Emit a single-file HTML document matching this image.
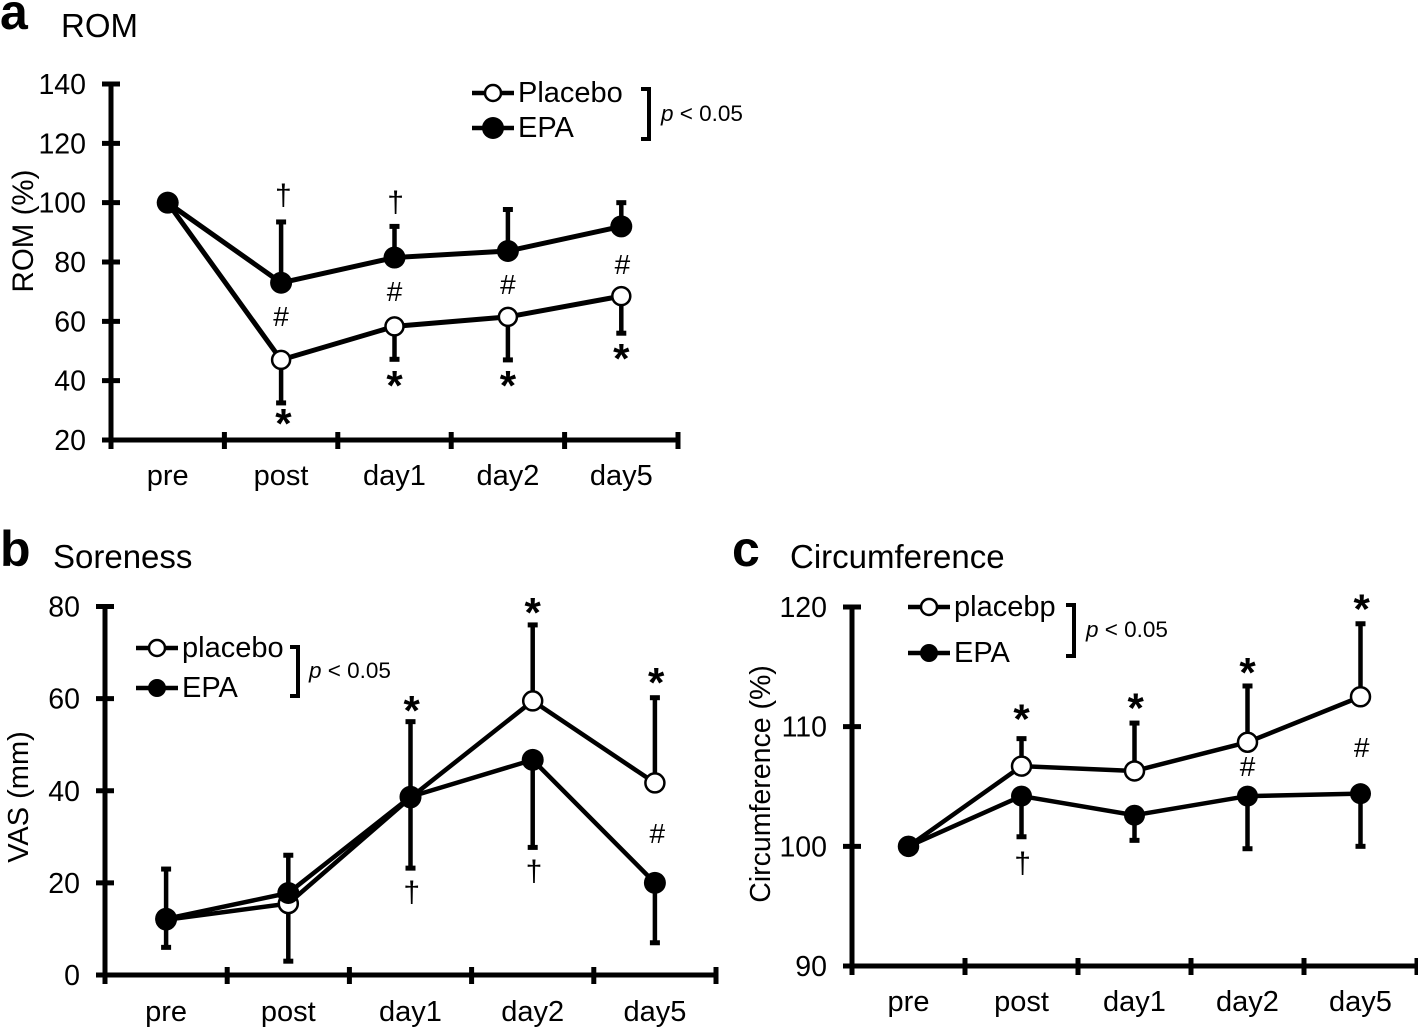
<!DOCTYPE html>
<html lang="en">
<head>
<meta charset="utf-8">
<title>ROM, Soreness and Circumference charts</title>
<style>
html,body{margin:0;padding:0;background:#fff;}
svg{display:block;font-family:"Liberation Sans",Arial,sans-serif;fill:#000;}
</style>
</head>
<body>
<svg id="figure" width="1418" height="1027" viewBox="0 0 1418 1027" xmlns="http://www.w3.org/2000/svg"></svg>
<script>
const categories = ['pre', 'post', 'day1', 'day2', 'day5'];

const romTicks = [20, 40, 60, 80, 100, 120, 140];
const romPlacebo = [100, 47, 58.3, 61.5, 68.5];
const romEpa = [100, 73, 81.5, 83.7, 92];
const romUpper = [null, 93.5, 92, 97.7, 100];
const romLower = [null, 32.5, 47.2, 47, 56];
const romMarks = [['†', 1.02, 102.6], ['†', 2.01, 100.2], ['#', 1, 61.8], ['#', 2, 70.2], ['#', 3, 72.6], ['#', 4.01, 79.3], ['*', 1.02, 27.4], ['*', 2, 40.2], ['*', 3, 40.2], ['*', 4, 49.3]];

const vasTicks = [0, 20, 40, 60, 80];
const vasPlacebo = [12, 15.5, 38.5, 59.5, 41.7];
const vasEpa = [12.2, 17.8, 38.7, 46.7, 20];
const vasUpper = [23, 26, 55, 76, 60.2];
const vasLower = [6, 3, 23.2, 27.7, 7];
const vasMarks = [['*', 2.01, 58.6], ['*', 3, 79.9], ['*', 4.01, 64.7], ['†', 2.01, 18], ['†', 3.01, 22.6], ['#', 4.02, 30.8]];

const circTicks = [90, 100, 110, 120];
const circPlacebo = [100, 106.7, 106.3, 108.7, 112.5];
const circEpa = [100, 104.2, 102.6, 104.2, 104.4];
const circUpper = [null, 109, 110.3, 113.4, 118.6];
const circLower = [null, 100.8, 100.5, 99.8, 100];
const circMarks = [['*', 1, 111.1], ['*', 2.01, 112], ['*', 3, 115], ['*', 4.01, 120.3], ['†', 1.01, 98.6], ['#', 3, 106.7], ['#', 4.01, 108.3]];

const NS = 'http://www.w3.org/2000/svg';
const root = document.getElementById('figure');

function make(parent, tag, attrs, text) {
  const el = document.createElementNS(NS, tag);
  for (const k in attrs) el.setAttribute(k, attrs[k]);
  if (text !== undefined) el.textContent = text;
  parent.appendChild(el);
  return el;
}

function stroke(parent, x1, y1, x2, y2, w, name) {
  const el = make(parent, 'line', { x1: x1, y1: y1, x2: x2, y2: y2, stroke: '#000', 'stroke-width': w });
  
  
  return el;
}

function label(parent, x, y, size, str, name, extra) {
  const el = make(parent, 'text', Object.assign({ x: x, y: y, 'font-size': size }, extra || {}), str);
  
  
  return el;
}

function marker(parent, x, y, open, rOpen, rClosed, name) {
  const el = make(parent, 'circle', { cx: x, cy: y, r: open ? rOpen : rClosed, fill: open ? '#fff' : '#000', stroke: '#000', 'stroke-width': open ? 2.5 : 0 });
  
  
  return el;
}

function drawPanel(p) {
  const g = make(root, 'g', {});
  
  

  const yMin = p.ticks[0], yMax = p.ticks[p.ticks.length - 1];
  const sy = v => p.yBottom + (v - yMin) * (p.yTop - p.yBottom) / (yMax - yMin);
  const band = (p.xRight - p.xLeft) / categories.length;
  const sx = i => p.xLeft + band * (i + 0.5);
  const pts = s => s.map((v, i) => sx(i) + ',' + sy(v)).join(' ');

  label(g, p.letterX, p.letterY, 50, p.letter, 'panel-letter', { 'font-weight': 'bold' });
  label(g, p.titleX, p.titleY, 33, p.title, 'panel-title');

  label(g, 0, 0, p.yTitleSize, p.yTitle, 'y-axis-title', { 'text-anchor': 'middle', transform: 'translate(' + p.yTitleX + ',' + p.yTitleY + ') rotate(-90)' });

  stroke(g, p.xLeft, p.yTop - 2.5, p.xLeft, p.yBottom + 9, 5, 'y-axis-line');
  stroke(g, p.xLeft - 9, p.yBottom, p.xRight + 2, p.yBottom, 5, 'x-axis-line');
  p.ticks.forEach(t => {
    stroke(g, p.xLeft - 9, sy(t), p.xLeft + 9, sy(t), 5, 'y-tick');
    label(g, p.xLeft - 25, sy(t) + 10, 28.5, String(t), 'y-tick-label', { 'text-anchor': 'end' });
  });
  categories.forEach((c, i) => {
    stroke(g, p.xLeft + band * (i + 1), p.yBottom - 8, p.xLeft + band * (i + 1), p.yBottom + 9, 5, 'x-tick');
    label(g, sx(i), p.xLabelY, 29, c, 'x-tick-label', { 'text-anchor': 'middle' });
  });

  p.upper.forEach((v, i) => {
    if (v === null) return;
    const from = p.upperSeries[i];
    stroke(g, sx(i), sy(from), sx(i), sy(v), 4.5, 'error-bar-upper');
    stroke(g, sx(i) - 5, sy(v), sx(i) + 5, sy(v), 5, 'error-cap-upper');
  });
  p.lower.forEach((v, i) => {
    if (v === null) return;
    const from = p.lowerSeries[i];
    stroke(g, sx(i), sy(from), sx(i), sy(v), 4.5, 'error-bar-lower');
    stroke(g, sx(i) - 5, sy(v), sx(i) + 5, sy(v), 5, 'error-cap-lower');
  });

  const lineP = make(g, 'polyline', { points: pts(p.placebo), fill: 'none', stroke: '#000', 'stroke-width': p.lineWidth });
  
  
  const lineE = make(g, 'polyline', { points: pts(p.epa), fill: 'none', stroke: '#000', 'stroke-width': p.lineWidth });
  
  

  p.placebo.forEach((v, i) => marker(g, sx(i), sy(v), true, p.rOpen, p.rClosed, 'placebo-point'));
  p.epa.forEach((v, i) => marker(g, sx(i), sy(v), false, p.rOpen, p.rClosed, 'epa-point'));

  p.marks.forEach(m => {
    const sym = m[0], x = sx(m[1]), y = sy(m[2]);
    if (sym === '*') {
      label(g, x, y + 20, 42, sym, 'significance-asterisk', { 'text-anchor': 'middle', 'font-weight': 'bold' });
    } else if (sym === '#') {
      label(g, x, y + 10, 28, sym, 'significance-hash', { 'text-anchor': 'middle' });
    } else {
      label(g, x, y + 10, 30, sym, 'significance-dagger', { 'text-anchor': 'middle' });
    }
  });

  const lg = p.legend;
  stroke(g, lg.x, lg.y1, lg.x + 42, lg.y1, 4.5, 'legend-placebo-line');
  marker(g, lg.x + 21, lg.y1, true, lg.rOpen, lg.rClosed, 'legend-placebo-marker');
  label(g, lg.x + 46, lg.y1 + 9, 29, lg.name1, 'legend-placebo-label');
  stroke(g, lg.x, lg.y2, lg.x + 42, lg.y2, 4.5, 'legend-epa-line');
  marker(g, lg.x + 21, lg.y2, false, lg.rOpen, lg.rClosed, 'legend-epa-marker');
  label(g, lg.x + 46, lg.y2 + 9, 29, lg.name2, 'legend-epa-label');

  const br = make(g, 'polyline', { points: lg.bx + ',' + lg.bTop + ' ' + (lg.bx + 8) + ',' + lg.bTop + ' ' + (lg.bx + 8) + ',' + lg.bBottom + ' ' + lg.bx + ',' + lg.bBottom, fill: 'none', stroke: '#000', 'stroke-width': 4 });
  
  
  const pv = label(g, lg.px, lg.py, 22.5, '', 'p-value-label');
  make(pv, 'tspan', { 'font-style': 'italic' }, 'p');
  make(pv, 'tspan', {}, ' < 0.05');
}

drawPanel({
  id: 'rom', letter: 'a', letterX: 0, letterY: 29, title: 'ROM', titleX: 61, titleY: 37,
  yTitle: 'ROM (%)', yTitleX: 33, yTitleY: 231, yTitleSize: 29.5,
  xLeft: 111, xRight: 678, yTop: 84, yBottom: 440, xLabelY: 485,
  ticks: romTicks, placebo: romPlacebo, epa: romEpa, upper: romUpper, lower: romLower,
  upperSeries: romEpa, lowerSeries: romPlacebo, marks: romMarks,
  lineWidth: 5, rOpen: 9, rClosed: 11,
  legend: { x: 472, y1: 93, y2: 128, name1: 'Placebo', name2: 'EPA', rOpen: 8, rClosed: 11, bx: 641, bTop: 89, bBottom: 139, px: 661, py: 121 }
});

drawPanel({
  id: 'soreness', letter: 'b', letterX: 0, letterY: 566, title: 'Soreness', titleX: 53, titleY: 568,
  yTitle: 'VAS (mm)', yTitleX: 28, yTitleY: 797, yTitleSize: 29,
  xLeft: 105, xRight: 716, yTop: 606.5, yBottom: 975, xLabelY: 1021,
  ticks: vasTicks, placebo: vasPlacebo, epa: vasEpa, upper: vasUpper, lower: vasLower,
  upperSeries: vasPlacebo, lowerSeries: vasEpa, marks: vasMarks,
  lineWidth: 4.5, rOpen: 9.5, rClosed: 11,
  legend: { x: 136, y1: 648, y2: 688, name1: 'placebo', name2: 'EPA', rOpen: 8, rClosed: 9, bx: 290, bTop: 647, bBottom: 696, px: 309, py: 678 }
});

drawPanel({
  id: 'circumference', letter: 'c', letterX: 732, letterY: 566, title: 'Circumference', titleX: 790, titleY: 568,
  yTitle: 'Circumference (%)', yTitleX: 770, yTitleY: 784, yTitleSize: 28.5,
  xLeft: 852, xRight: 1417, yTop: 607, yBottom: 966, xLabelY: 1011,
  ticks: circTicks, placebo: circPlacebo, epa: circEpa, upper: circUpper, lower: circLower,
  upperSeries: circPlacebo, lowerSeries: circEpa, marks: circMarks,
  lineWidth: 4.5, rOpen: 9.5, rClosed: 10.5,
  legend: { x: 908, y1: 607, y2: 653, name1: 'placebp', name2: 'EPA', rOpen: 8, rClosed: 9, bx: 1066, bTop: 605, bBottom: 656, px: 1086, py: 637 }
});
</script>
</body>
</html>
